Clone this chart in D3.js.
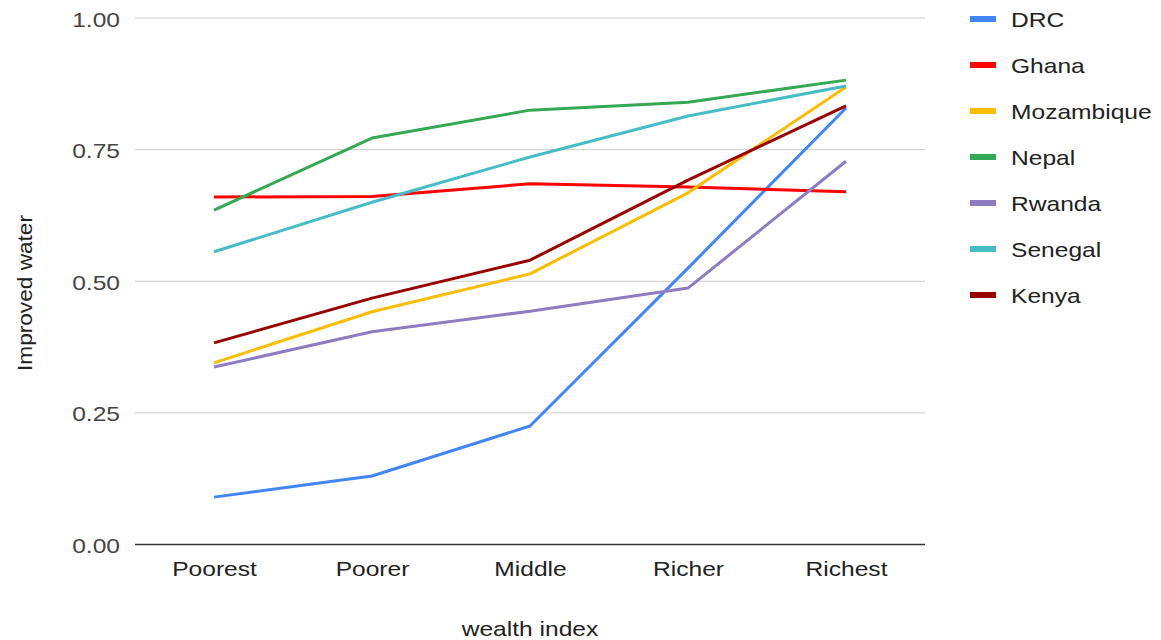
<!DOCTYPE html>
<html>
<head>
<meta charset="utf-8">
<script src="https://cdn.jsdelivr.net/npm/d3@7"></script>
<style>
  html, body { margin: 0; padding: 0; background: #fff; }
  svg { display: block; font-family: "Liberation Sans", Arial, sans-serif; }
</style>
</head>
<body>
<svg id="chart" width="1161" height="640"></svg>
<script>
// Wealth quintiles on the x axis
const categories = ["Poorest", "Poorer", "Middle", "Richer", "Richest"];

// Share of households with improved water, by country
const countries = ["DRC", "Ghana", "Mozambique", "Nepal", "Rwanda", "Senegal", "Kenya"];
const drc        = [0.090, 0.130, 0.225, 0.525, 0.829];
const ghana      = [0.660, 0.661, 0.685, 0.679, 0.670];
const mozambique = [0.345, 0.442, 0.514, 0.668, 0.869];
const nepal      = [0.635, 0.772, 0.825, 0.840, 0.882];
const rwanda     = [0.337, 0.404, 0.443, 0.487, 0.728];
const senegal    = [0.556, 0.650, 0.736, 0.814, 0.871];
const kenya      = [0.383, 0.468, 0.540, 0.692, 0.833];
const seriesValues = [drc, ghana, mozambique, nepal, rwanda, senegal, kenya];
const colors = ["#4285f4", "#ff0000", "#fbbc04", "#34a853", "#8e7cc3", "#46bdc6", "#990000"];

const yTicks = [0, 0.25, 0.5, 0.75, 1.0];

const svg = d3.select("#chart");
const plotLeft = 135, plotRight = 925, plotTop = 18, plotBottom = 544.5;
const fontSize = 21;
const widen = 1.17; // labels are set slightly wider than the regular face

// Widen each text horizontally, keeping its anchor
function widenText(sel) {
  sel.each(function () {
    const w = this.getComputedTextLength();
    d3.select(this)
      .attr("textLength", w * widen)
      .attr("lengthAdjust", "spacingAndGlyphs");
  });
}

const x = d3.scalePoint().domain(categories).range([plotLeft, plotRight]).padding(0.5);
const y = d3.scaleLinear().domain([0, 1]).range([plotBottom, plotTop]);

// Horizontal gridlines
svg.append("g")
  .selectAll("line")
  .data(yTicks.filter(d => d > 0))
  .join("line")
  .attr("x1", plotLeft).attr("x2", plotRight)
  .attr("y1", d => y(d)).attr("y2", d => y(d))
  .attr("stroke", "#cccccc").attr("stroke-width", 1);

// Y axis labels
const yAxis = svg.append("g")
  .attr("transform", `translate(${plotLeft},0)`)
  .call(d3.axisLeft(y).tickValues(yTicks).tickFormat(d3.format(".2f")).tickSize(0).tickPadding(15));
yAxis.select(".domain").remove();
yAxis.selectAll("text")
  .attr("font-size", fontSize).attr("fill", "#444")
  .attr("font-family", "Liberation Sans, Arial, sans-serif")
  .attr("dy", null).attr("y", 8)
  .call(widenText);

// X axis labels
const xAxis = svg.append("g")
  .attr("transform", `translate(0,${plotBottom})`)
  .call(d3.axisBottom(x).tickSize(0));
xAxis.select(".domain").remove();
xAxis.selectAll("text")
  .attr("font-size", fontSize).attr("fill", "#222")
  .attr("font-family", "Liberation Sans, Arial, sans-serif")
  .attr("dy", null).attr("y", 31)
  .call(widenText);

// Baseline
svg.append("line")
  .attr("x1", plotLeft).attr("x2", plotRight)
  .attr("y1", y(0)).attr("y2", y(0))
  .attr("stroke", "#333").attr("stroke-width", 1.5);

// Series lines
const line = d3.line().x((d, i) => x(categories[i])).y(d => y(d));
svg.append("g")
  .selectAll("path")
  .data(seriesValues)
  .join("path")
  .attr("d", d => line(d))
  .attr("fill", "none")
  .attr("stroke", (d, i) => colors[i])
  .attr("stroke-width", 3)
  .attr("stroke-linejoin", "round");

// Axis titles
svg.append("text")
  .attr("x", 530).attr("y", 636)
  .attr("text-anchor", "middle")
  .attr("font-size", fontSize).attr("fill", "#222")
  .text("wealth index")
  .call(widenText);

svg.append("text")
  .attr("transform", `translate(32,293) rotate(-90)`)
  .attr("text-anchor", "middle")
  .attr("font-size", fontSize).attr("fill", "#222")
  .attr("textLength", 156)
  .attr("lengthAdjust", "spacingAndGlyphs")
  .text("Improved water");

// Legend
const legend = svg.append("g");
const rows = legend.selectAll("g")
  .data(countries)
  .join("g")
  .attr("transform", (d, i) => `translate(970,${19 + i * 46})`);
rows.append("line")
  .attr("x1", 0).attr("x2", 26).attr("y1", 0).attr("y2", 0)
  .attr("stroke", (d, i) => colors[i])
  .attr("stroke-width", 6);
rows.append("text")
  .attr("x", 41).attr("y", 8)
  .attr("font-size", fontSize).attr("fill", "#222")
  .text(d => d)
  .call(widenText);
</script>
</body>
</html>
